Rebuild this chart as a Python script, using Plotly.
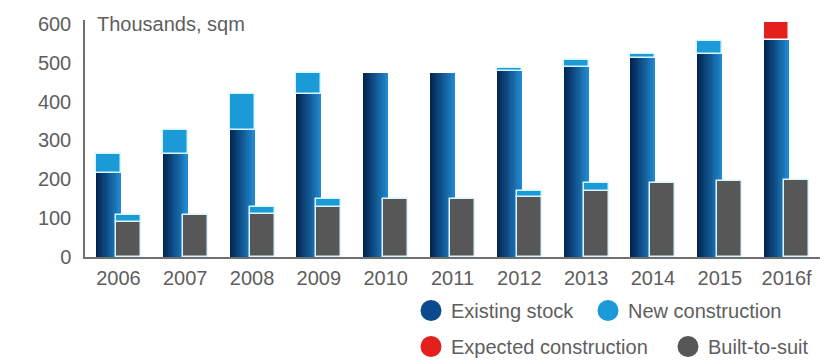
import plotly.graph_objects as go

years = ['2006', '2007', '2008', '2009', '2010', '2011', '2012', '2013', '2014', '2015', '2016f']
existing_stock = [215, 266, 328, 420, 473, 473, 479, 489, 512, 523, 559]
new_construction = [50, 61, 92, 53, 0, 0, 7, 19, 10, 34, 0]
expected_construction = [0, 0, 0, 0, 0, 0, 0, 0, 0, 0, 47]
built_to_suit = [90, 107, 111, 129, 150, 150, 155, 169, 191, 195, 199]
bts_new_construction = [17, 0, 18, 21, 0, 0, 15, 21, 0, 0, 0]
y_ticks = [0, 100, 200, 300, 400, 500, 600]

FONT = "Liberation Sans, Arial, sans-serif"
TXT = "#5e5e5e"
C_NEW = "#1b9ad8"
C_RED = "#e3201c"
C_GRAY = "#575757"
EDGE = "#d9f5ff"

def nz(vals):
    return [v if v else None for v in vals]

def lerp_color(c0, c1, t):
    a = [int(c0[i:i + 2], 16) for i in (1, 3, 5)]
    b = [int(c1[i:i + 2], 16) for i in (1, 3, 5)]
    return "#%02x%02x%02x" % tuple(round(a[k] + (b[k] - a[k]) * t) for k in range(3))

BW = 0.374
OFF_BLUE = -0.337
OFF_GRAY = -0.037

fig = go.Figure()

# Existing stock: horizontal gradient built from overlapping layers
N = 14
for i in range(N):
    t = i / (N - 1)
    fig.add_trace(go.Bar(
        x=years, y=existing_stock, offset=OFF_BLUE + BW * i / N, width=BW * (1 - i / N),
        marker=dict(color=lerp_color("#042552", "#1f88cf", t), line=dict(width=0)),
        showlegend=False, hoverinfo="skip" if i else None, name="Existing stock"))

fig.add_trace(go.Bar(
    x=years, y=nz(new_construction), base=existing_stock, offset=OFF_BLUE, width=BW,
    marker=dict(color=C_NEW, line=dict(color=EDGE, width=1.5)),
    showlegend=False, name="New construction"))
fig.add_trace(go.Bar(
    x=years, y=nz(expected_construction), base=existing_stock, offset=OFF_BLUE, width=BW,
    marker=dict(color=C_RED, line=dict(color="#ffffff", width=1.5)),
    showlegend=False, name="Expected construction"))
fig.add_trace(go.Bar(
    x=years, y=built_to_suit, offset=OFF_GRAY, width=BW,
    marker=dict(color=C_GRAY, line=dict(color=EDGE, width=1.5)),
    showlegend=False, name="Built-to-suit"))
fig.add_trace(go.Bar(
    x=years, y=nz(bts_new_construction), base=built_to_suit, offset=OFF_GRAY, width=BW,
    marker=dict(color=C_NEW, line=dict(color=EDGE, width=1.5)),
    showlegend=False, name="New construction"))

# legend entries (circles), one legend box per entry for exact placement
legend_items = [("Existing stock", "#0b4a8c", "legend"),
                ("New construction", C_NEW, "legend2"),
                ("Expected construction", C_RED, "legend3"),
                ("Built-to-suit", C_GRAY, "legend4")]
for name, col, lg in legend_items:
    fig.add_trace(go.Scatter(
        x=[None], y=[None], mode="markers", name=name, legend=lg,
        marker=dict(symbol="circle", size=16, color=col, line=dict(color=col, width=5))))

leg_common = dict(orientation="h", font=dict(family=FONT, size=20, color=TXT),
                  bgcolor="rgba(0,0,0,0)", itemsizing="trace", itemwidth=30,
                  xref="container", yref="container", xanchor="left", yanchor="top")

ROW1, ROW2 = 1 - 291 / 361, 1 - 327 / 361

fig.update_layout(
    width=826, height=361,
    margin=dict(l=85, r=6, t=20, b=103.6),
    paper_bgcolor="#ffffff", plot_bgcolor="#ffffff",
    barmode="overlay", bargap=0,
    font=dict(family=FONT, size=20, color=TXT),
    xaxis=dict(type="category", range=[-0.5, 10.5], showline=True, linecolor="#707070",
               linewidth=1.5, showgrid=False, zeroline=False, ticks="", automargin=False,
               tickfont=dict(family=FONT, size=20, color=TXT), ticklabelstandoff=2),
    yaxis=dict(range=[0, 610], tickvals=y_ticks, showline=True, linecolor="#707070",
               linewidth=1.5, showgrid=False, zeroline=False, ticks="", automargin=False,
               tickfont=dict(family=FONT, size=20, color=TXT), ticklabelstandoff=8),
    legend=dict(x=411 / 826, y=ROW1, **leg_common),
    legend2=dict(x=588 / 826, y=ROW1, **leg_common),
    legend3=dict(x=411 / 826, y=ROW2, **leg_common),
    legend4=dict(x=668 / 826, y=ROW2, **leg_common),
    annotations=[dict(text="Thousands, sqm", xref="paper", yref="y", x=0, y=600,
                      xanchor="left", yanchor="middle", xshift=10, showarrow=False,
                      font=dict(family=FONT, size=20, color=TXT))],
)

fig.write_html("out.html")
